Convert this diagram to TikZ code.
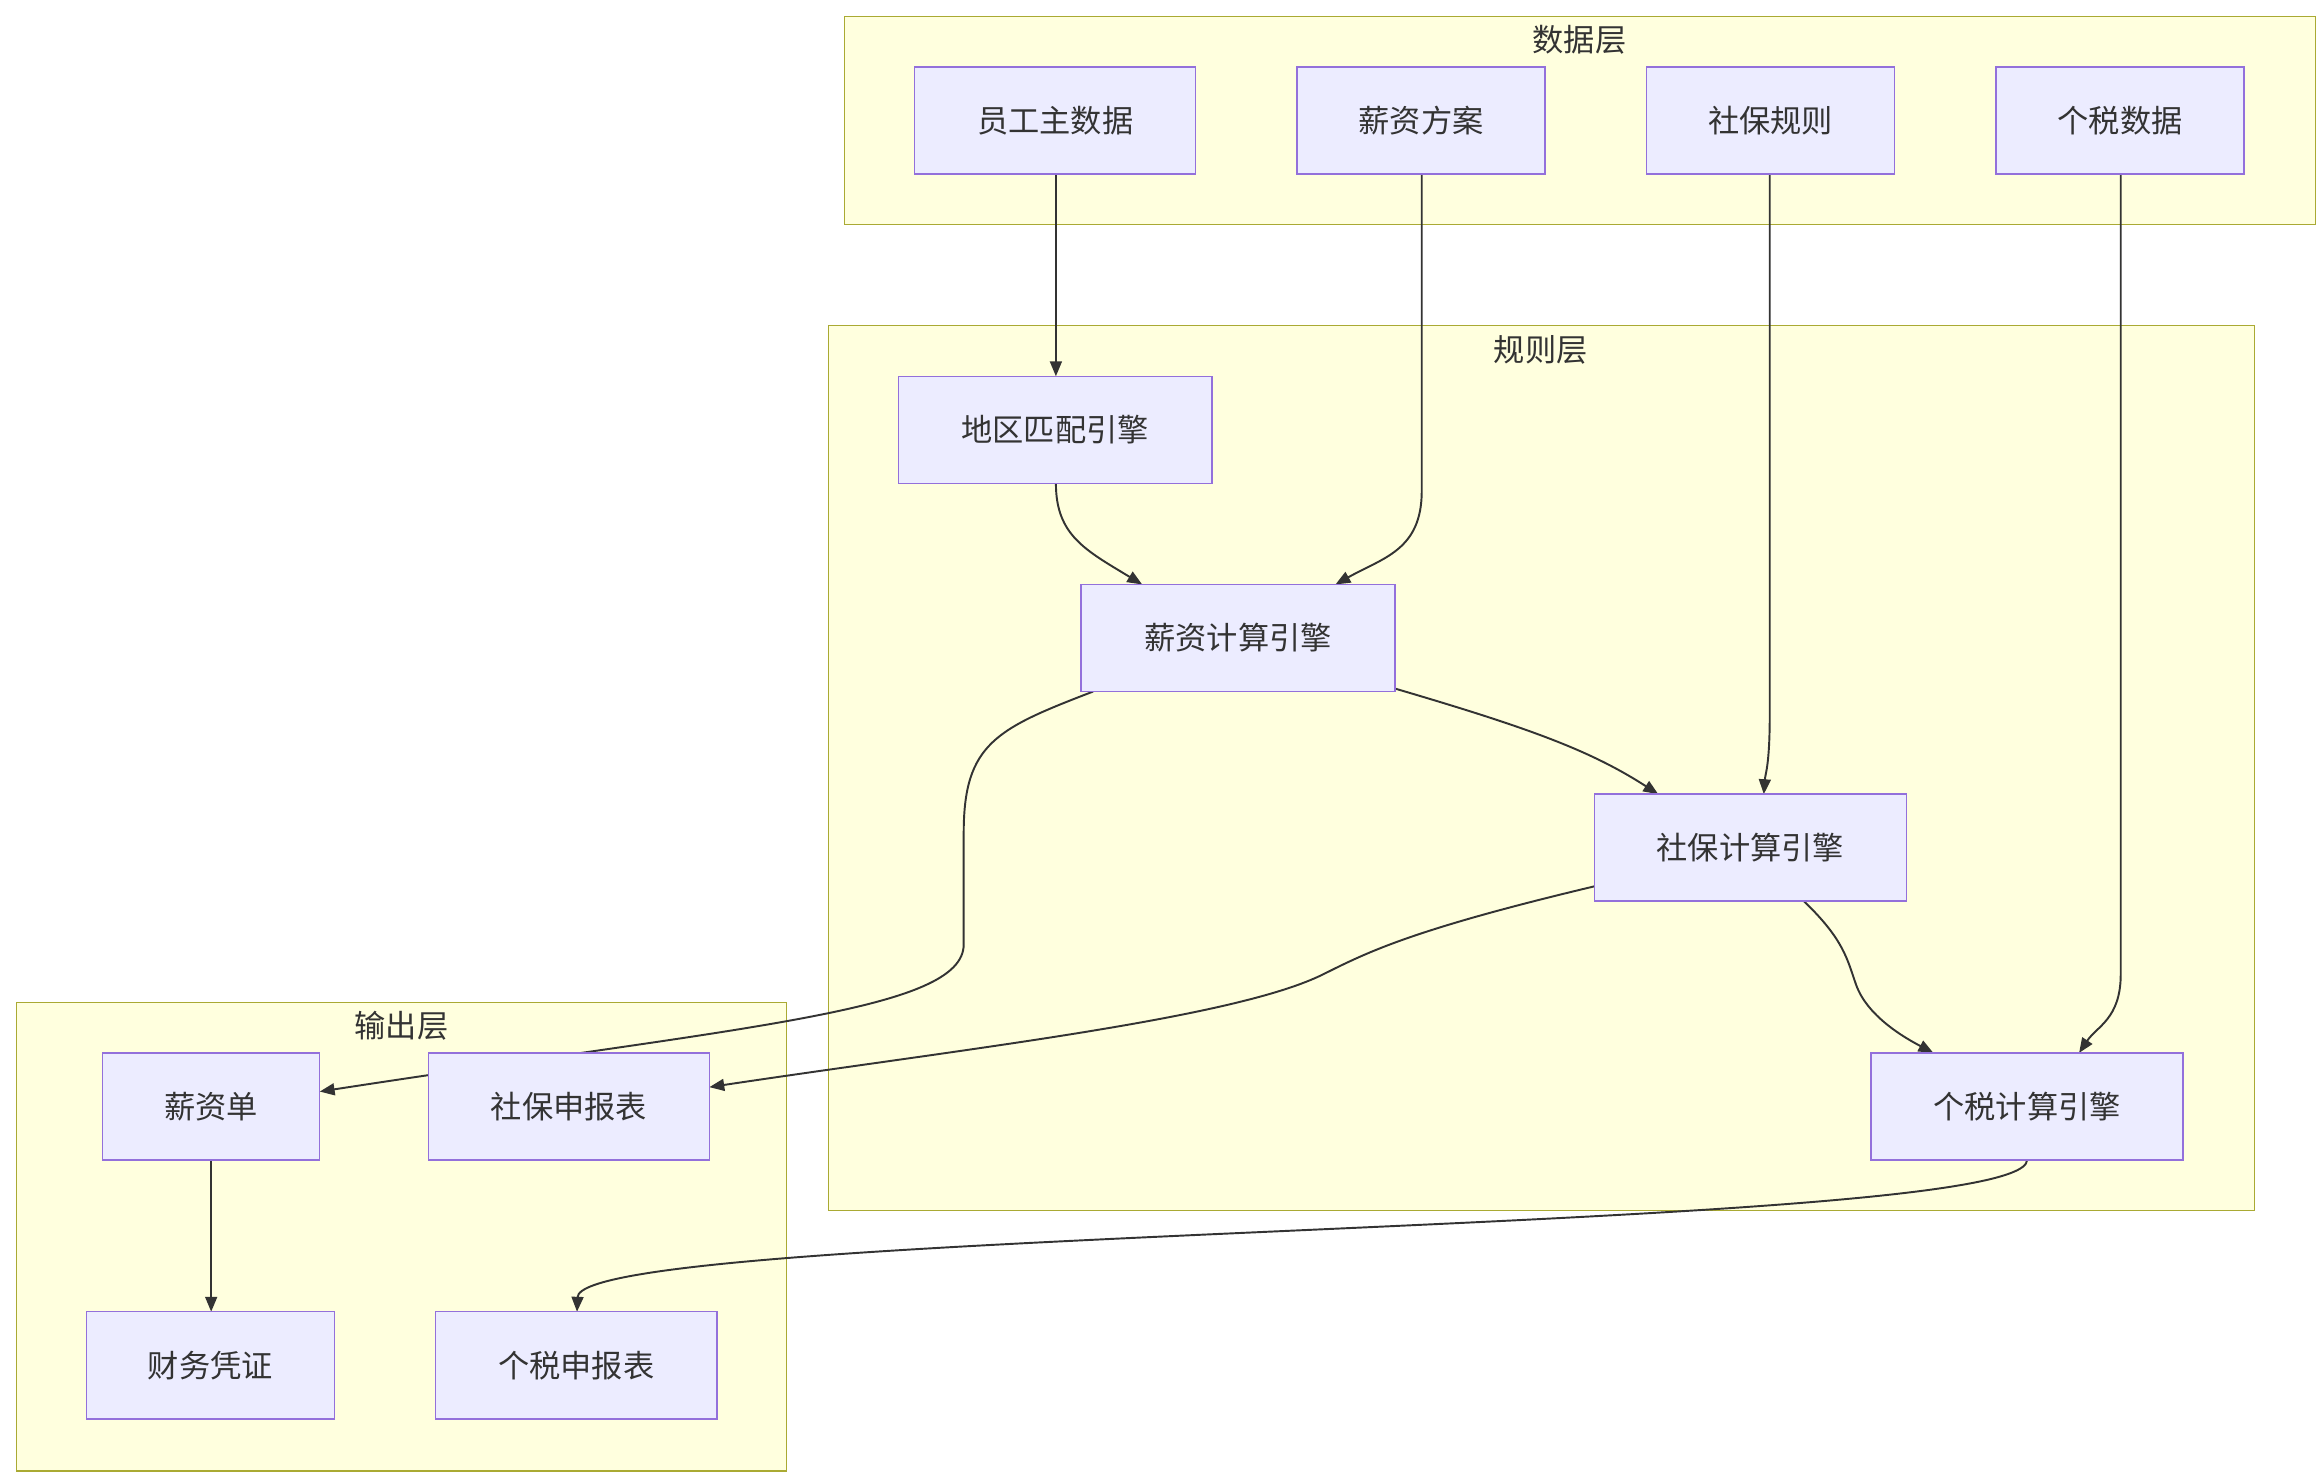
\documentclass[tikz,border=0pt]{standalone}
\usepackage{fontspec}
\setmainfont{Noto Sans CJK SC}
\usetikzlibrary{arrows.meta}
\definecolor{nfill}{HTML}{ECECFF}
\definecolor{nline}{HTML}{9370DB}
\definecolor{cfill}{HTML}{FFFFDE}
\definecolor{cline}{HTML}{AAAA33}
\definecolor{eline}{HTML}{333333}
\begin{document}
\begin{tikzpicture}[x=1pt,y=-1pt,
  cluster/.style={draw=cline,fill=cfill,line width=1pt},
  box/.style={draw=nline,fill=nfill,line width=1pt,font=\fontsize{21}{25}\selectfont,text=eline},
  ttl/.style={font=\fontsize{21}{25}\selectfont,text=eline},
  edge/.style={draw=eline,line width=1.3pt,-{Triangle[length=10pt,width=8pt]}}]
\useasboundingbox (0,0) rectangle (1560,995);
\fill[white] (0,0) rectangle (1560,995);
% clusters
\draw[cluster] (568,11) rectangle (1557,151);
\node[ttl] (t1) at (1062,27) {数据层};
\draw[cluster] (557,219) rectangle (1516,814);
\node[ttl] (t2) at (1036,235) {规则层};
\draw[cluster] (11,674) rectangle (529,989);
\node[ttl] (t3) at (270,690) {输出层};
% node coordinates (for edges drawn first)
\newcommand{\mybox}[6]{\path[box] (#2,#3) rectangle (#4,#5) node[midway,draw=none,fill=none] (#1) {#6};}
% edges first
\coordinate (a1) at (710,117); \coordinate (a2) at (710,253);
\draw[edge] (a1) -- (a2);
\coordinate (b1) at (956,117); \coordinate (b2) at (898,393);
\draw[edge] (b1) -- (956,330) .. controls (956,370) and (930,375) .. (b2);
\coordinate (c1) at (710,325); \coordinate (c2) at (768,393);
\draw[edge] (c1) .. controls (710,360) and (730,370) .. (c2);
\coordinate (d1) at (1190,117); \coordinate (d2) at (1186,534);
\draw[edge] (d1) -- (1190,480) .. controls (1190,515) and (1187,520) .. (d2);
\coordinate (e1) at (1426,117); \coordinate (e2) at (1398,708);
\draw[edge] (e1) -- (1426,655) .. controls (1426,685) and (1410,690) .. (e2);
\coordinate (f1) at (938,463); \coordinate (f2) at (1115,534);
\draw[edge] (f1) .. controls (1030,490) and (1070,505) .. (f2);
\coordinate (g1) at (735,465); \coordinate (g2) at (215,734);
\draw[edge] (g1) .. controls (670,490) and (648,500) .. (648,560) -- (648,635) .. controls (648,680) and (500,690) .. (g2);
\coordinate (h1) at (1072,596); \coordinate (h2) at (477,731);
\draw[edge] (h1) .. controls (950,625) and (920,640) .. (890,655) .. controls (830,685) and (650,705) .. (h2);
\coordinate (i1) at (1213,606); \coordinate (i2) at (1300,708);
\draw[edge] (i1) .. controls (1240,632) and (1242,645) .. (1248,662) .. controls (1256,685) and (1285,700) .. (i2);
\coordinate (j1) at (1363,780); \coordinate (j2) at (388,882);
\draw[edge] (j1) .. controls (1363,830) and (390,825) .. (j2);
\coordinate (k1) at (142,780); \coordinate (k2) at (142,882);
\draw[edge] (k1) -- (k2);
% nodes
\mybox{n1}{615}{45}{804}{117}{员工主数据}
\mybox{n2}{872}{45}{1039}{117}{薪资方案}
\mybox{n3}{1107}{45}{1274}{117}{社保规则}
\mybox{n4}{1342}{45}{1509}{117}{个税数据}
\mybox{r1}{604}{253}{815}{325}{地区匹配引擎}
\mybox{r2}{727}{393}{938}{465}{薪资计算引擎}
\mybox{r3}{1072}{534}{1282}{606}{社保计算引擎}
\mybox{r4}{1258}{708}{1468}{780}{个税计算引擎}
\mybox{o1}{69}{708}{215}{780}{薪资单}
\mybox{o2}{288}{708}{477}{780}{社保申报表}
\mybox{o3}{58}{882}{225}{954}{财务凭证}
\mybox{o4}{293}{882}{482}{954}{个税申报表}
\end{tikzpicture}
\end{document}
